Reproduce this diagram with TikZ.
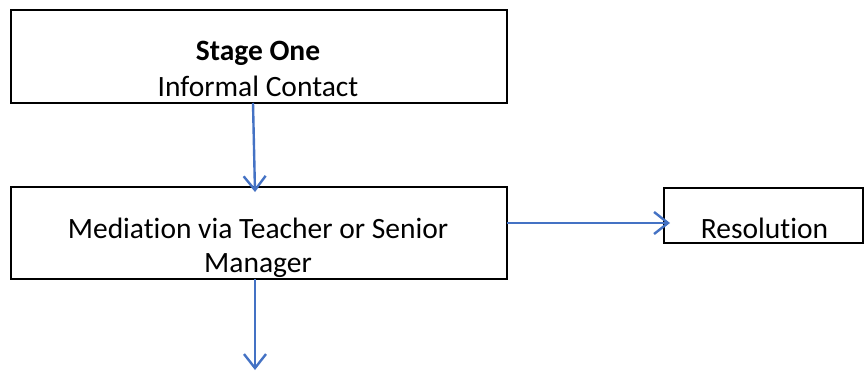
\documentclass[tikz,border=0pt]{standalone}
\usepackage{fontspec}
\setmainfont{Carlito}[RawFeature=-liga]
\usetikzlibrary{arrows.meta}
\definecolor{arrowblue}{HTML}{4472C4}
\begin{document}
\begin{tikzpicture}[x=1pt,y=-1pt,
  box/.style={draw=black,line width=1.4pt,rectangle,inner sep=0pt,outer sep=0pt},
  lbl/.style={anchor=base,inner sep=0pt,font=\fontsize{29.5}{34}\selectfont},
  conn/.style={draw=arrowblue,line width=2.4pt,-{Straight Barb[length=14pt,width=22pt,line width=2.4pt]}}]
\useasboundingbox (0,0) rectangle (864,372);
\node[box,minimum width=496pt,minimum height=93pt] (s1) at (259,56.5) {};
\node[box,minimum width=496pt,minimum height=92pt] (med) at (259,233) {};
\node[box,minimum width=199pt,minimum height=55pt] (res) at (763.5,215.5) {};
\node[lbl] (t1) at (258,60) {\bfseries Stage One};
\node[lbl] (t2) at (258,96) {Informal Contact};
\node[lbl] (t3) at (258,238) {Mediation via Teacher or Senior};
\node[lbl] (t4) at (258,272) {Manager};
\node[lbl] (t5) at (764.5,238) {Resolution};
\coordinate (end) at (255,370);
\draw[conn] ([xshift=-6pt]s1.south) -- ([xshift=-4pt,yshift=-5pt]med.north);
\draw[conn] ([yshift=10pt]med.east) -- ([xshift=6pt,yshift=-7.5pt]res.west);
\draw[conn] ([xshift=-4pt]med.south) -- (end);
\end{tikzpicture}
\end{document}
